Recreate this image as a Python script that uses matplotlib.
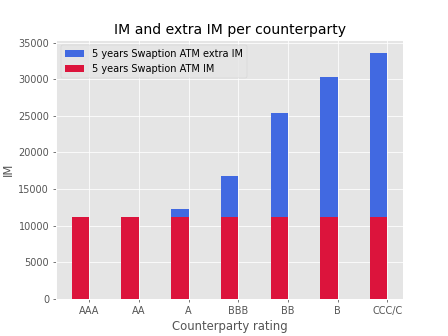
import numpy as np
import matplotlib
matplotlib.use('Agg')
import matplotlib.pyplot as plt

ratings = ['AAA', 'AA', 'A', 'BBB', 'BB', 'B', 'CCC/C']
im = [11250, 11250, 11250, 11250, 11250, 11250, 11250]
im_total = [11250, 11250, 12260, 16850, 25450, 30330, 33620]

plt.style.use('ggplot')

ind = np.arange(len(ratings))
width = 0.35

fig, ax = plt.subplots(figsize=(6.4, 4.8), dpi=70)
ax.bar(ind, im_total, -width, align='edge', color='royalblue', label='5 years Swaption ATM extra IM')
ax.bar(ind, im, -width, align='edge', color='crimson', label='5 years Swaption ATM IM')
ax.set_xticks(ind)
ax.set_xticklabels(ratings)
ax.set_xlabel('Counterparty rating')
ax.set_ylabel('IM')
ax.set_title('IM and extra IM per counterparty')
ax.legend(loc='upper left')
fig.savefig('out.png')
